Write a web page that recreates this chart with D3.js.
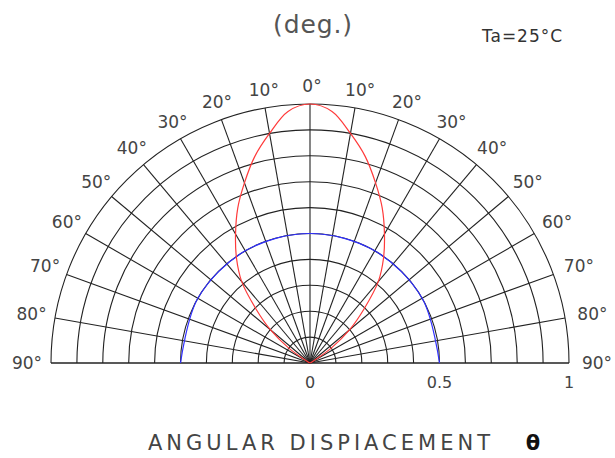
<!DOCTYPE html>
<html>
<head>
<meta charset="utf-8">
<script src="https://cdn.jsdelivr.net/npm/d3@7/dist/d3.min.js"></script>
<style>
  body { margin: 0; background: #fff; }
  svg { display: block; }
</style>
</head>
<body>
<svg id="chart"></svg>
<script>
// rings of relative intensity
const ringValues = [0.1, 0.2, 0.3, 0.4, 0.5, 0.6, 0.7, 0.8, 0.9, 1.0];
// spokes, degrees from the axis (negative = left)
const spokeAngles = [-90, -80, -70, -60, -50, -40, -30, -20, -10, 0, 10, 20, 30, 40, 50, 60, 70, 80, 90];
const spokeLabels = ['90°', '80°', '70°', '60°', '50°', '40°', '30°', '20°', '10°', '0°', '10°', '20°', '30°', '40°', '50°', '60°', '70°', '80°', '90°'];
const radialTicks = [0, 0.5, 1];
const radialTickLabels = ['0', '0.5', '1'];

// red curve: radiation pattern
const patternAngles = [-61, -60, -55, -50, -45, -40, -35, -30, -25, -20, -15, -10, -5, 0,
  5, 10, 15, 20, 25, 30, 35, 40, 45, 50, 55, 60, 61];
const patternValues = [0, 0.01, 0.1, 0.2, 0.295, 0.41, 0.495, 0.575, 0.66, 0.74, 0.825, 0.9, 0.975, 1.0,
  0.975, 0.9, 0.825, 0.74, 0.66, 0.575, 0.495, 0.41, 0.295, 0.2, 0.1, 0.01, 0];

// blue curve: half intensity reference
const halfAngles = [-90, -60, -30, 0, 30, 60, 90];
const halfValues = [0.5, 0.5, 0.5, 0.5, 0.5, 0.5, 0.5];

const width = 615, height = 458;
const cx = 310, cy = 363;
const R = 259;

const svg = d3.select('#chart')
  .attr('width', width)
  .attr('height', height)
  .attr('font-family', "'DejaVu Sans', sans-serif");

const r = d3.scaleLinear().domain([0, 1]).range([0, R]);
const a = d3.scaleLinear().domain([-90, 90]).range([-Math.PI / 2, Math.PI / 2]);

const g = svg.append('g').attr('transform', `translate(${cx},${cy})`);

// rings
const arc = d3.arc()
  .innerRadius(d => r(d))
  .outerRadius(d => r(d))
  .startAngle(a(-90))
  .endAngle(a(90));

g.selectAll('.ring')
  .data(ringValues)
  .join('path')
  .attr('class', 'ring')
  .attr('d', arc)
  .attr('fill', 'none')
  .attr('stroke', '#222')
  .attr('stroke-width', 1.1);

// spokes
g.selectAll('.spoke')
  .data(spokeAngles)
  .join('line')
  .attr('class', 'spoke')
  .attr('x1', 0)
  .attr('y1', 0)
  .attr('x2', d => r(1) * Math.sin(a(d)))
  .attr('y2', d => -r(1) * Math.cos(a(d)))
  .attr('stroke', '#222')
  .attr('stroke-width', d => Math.abs(d) === 90 ? 1.6 : 1.1);

// blue half intensity line
const radial = d3.lineRadial()
  .angle(d => a(d[0]))
  .radius(d => r(d[1]));

g.append('path')
  .datum(d3.zip(halfAngles, halfValues))
  .attr('d', radial.curve(d3.curveCardinal.tension(0)))
  .attr('fill', 'none')
  .attr('stroke', '#3030ff')
  .attr('stroke-width', 1.2);

// red pattern
g.append('path')
  .datum(d3.zip(patternAngles, patternValues))
  .attr('d', radial.curve(d3.curveCatmullRom))
  .attr('fill', 'none')
  .attr('stroke', '#ff3a3a')
  .attr('stroke-width', 1.2);

// angle labels, pushed out a little more at the sides
const labelRadius = d => 277 + 8 * Math.pow(Math.sin(a(d)), 2);
g.selectAll('.alabel')
  .data(spokeAngles)
  .join('text')
  .attr('class', 'alabel')
  .attr('x', d => labelRadius(d) * Math.sin(a(d)) + 2)
  .attr('y', d => -labelRadius(d) * Math.cos(a(d)))
  .attr('dy', '0.36em')
  .attr('text-anchor', 'middle')
  .attr('font-size', 17)
  .attr('fill', '#444')
  .text((d, i) => spokeLabels[i]);

// radial tick labels
g.selectAll('.rlabel')
  .data(radialTicks)
  .join('text')
  .attr('class', 'rlabel')
  .attr('x', d => r(d))
  .attr('y', 25)
  .attr('text-anchor', 'middle')
  .attr('font-size', 16)
  .attr('fill', '#444')
  .text((d, i) => radialTickLabels[i]);

// titles
svg.append('text')
  .attr('x', 273)
  .attr('y', 33)
  .attr('font-size', 25)
  .attr('textLength', 79)
  .attr('lengthAdjust', 'spacing')
  .attr('fill', '#555')
  .text('(deg.)');

svg.append('text')
  .attr('x', 482)
  .attr('y', 42)
  .attr('font-size', 17)
  .attr('textLength', 80)
  .attr('lengthAdjust', 'spacing')
  .attr('fill', '#333')
  .text('Ta=25°C');

svg.append('text')
  .attr('x', 148)
  .attr('y', 450)
  .attr('font-size', 21)
  .attr('textLength', 342)
  .attr('lengthAdjust', 'spacing')
  .attr('fill', '#444')
  .text('ANGULAR DISPIACEMENT');

svg.append('text')
  .attr('x', 533)
  .attr('y', 450)
  .attr('text-anchor', 'middle')
  .attr('font-size', 21)
  .attr('font-weight', 'bold')
  .attr('fill', '#111')
  .text('θ');
</script>
</body>
</html>
